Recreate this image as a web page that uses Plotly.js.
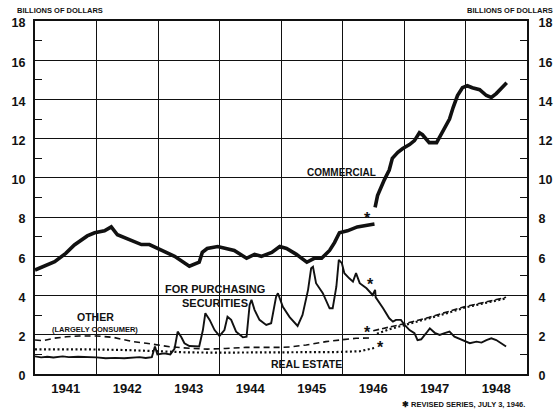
<!DOCTYPE html>
<html>
<head>
<meta charset="utf-8">
<script src="https://cdn.plot.ly/plotly-3.0.1.min.js"></script>
<style>html,body{margin:0;padding:0;background:#fff;}#chart{width:557px;height:410px;}</style>
</head>
<body>
<div id="chart"></div>
<script>
// ---- Data (decimal years, billions of dollars) ----
const yearLabels = ['1941','1942','1943','1944','1945','1946','1947','1948'];
const yearLabelPos = [1941.5,1942.5,1943.5,1944.5,1945.5,1946.5,1947.5,1948.5];
const yearBounds = [1942,1943,1944,1945,1946,1947,1948];

const commercialX = [1941.0,1941.1,1941.32,1941.5,1941.64,1941.85,1941.97,1942.13,1942.24,1942.34,1942.57,1942.73,1942.86,1943.06,1943.27,1943.51,1943.67,1943.72,1943.8,1943.97,1944.13,1944.24,1944.44,1944.57,1944.68,1944.85,1944.98,1945.09,1945.25,1945.42,1945.54,1945.66,1945.79,1945.87,1945.95,1946.08,1946.24,1946.36,1946.47,1946.52];
const commercialY = [5.3,5.45,5.73,6.15,6.58,7.04,7.2,7.3,7.5,7.1,6.8,6.6,6.6,6.3,6.0,5.5,5.7,6.2,6.4,6.5,6.4,6.3,5.9,6.1,6.0,6.2,6.5,6.4,6.1,5.7,5.9,5.9,6.3,6.7,7.2,7.3,7.5,7.55,7.6,7.65];

const commercialRevX = [1946.53,1946.57,1946.68,1946.76,1946.81,1946.9,1946.98,1947.09,1947.17,1947.25,1947.3,1947.41,1947.53,1947.63,1947.74,1947.8,1947.87,1947.95,1948.03,1948.11,1948.23,1948.34,1948.42,1948.5,1948.59,1948.67];
const commercialRevY = [8.5,9.1,9.9,10.4,11.0,11.3,11.5,11.7,11.9,12.3,12.2,11.8,11.8,12.4,13.0,13.6,14.2,14.6,14.7,14.6,14.5,14.2,14.1,14.3,14.6,14.85];

const securitiesX = [1941.0,1941.1,1941.2,1941.3,1941.45,1941.55,1941.7,1941.85,1942.0,1942.15,1942.3,1942.45,1942.6,1942.7,1942.8,1942.9,1942.95,1942.99,1943.1,1943.2,1943.27,1943.32,1943.38,1943.43,1943.51,1943.67,1943.73,1943.77,1943.84,1943.92,1944.0,1944.08,1944.13,1944.19,1944.27,1944.38,1944.44,1944.49,1944.52,1944.57,1944.65,1944.76,1944.84,1944.92,1944.95,1945.03,1945.14,1945.22,1945.27,1945.35,1945.44,1945.49,1945.52,1945.57,1945.68,1945.79,1945.84,1945.9,1945.94,1945.99,1946.03,1946.11,1946.17,1946.22,1946.28,1946.39,1946.49,1946.53,1946.54,1946.66,1946.76,1946.82,1946.87,1946.95,1947.01,1947.09,1947.17,1947.22,1947.28,1947.36,1947.42,1947.5,1947.58,1947.66,1947.74,1947.82,1947.88,1947.96,1948.07,1948.18,1948.26,1948.34,1948.42,1948.5,1948.58,1948.66];
const securitiesY = [0.9,0.85,0.88,0.84,0.9,0.86,0.88,0.87,0.85,0.8,0.82,0.8,0.82,0.86,0.82,0.86,1.4,1.0,1.05,1.0,1.3,2.16,1.87,1.57,1.43,1.4,2.24,3.1,2.76,2.24,1.94,2.24,2.92,2.76,2.16,1.87,1.9,3.52,3.78,3.27,2.76,2.5,2.59,3.94,4.12,3.43,2.9,2.59,2.45,3.01,4.29,5.39,5.47,4.63,4.12,3.35,3.35,4.45,5.82,5.65,5.14,4.88,4.71,5.14,4.63,4.37,4.03,4.29,3.91,3.35,2.84,2.67,2.76,2.76,2.5,2.24,2.08,1.73,1.77,2.08,2.33,2.1,1.99,2.08,2.16,1.9,1.82,1.73,1.57,1.65,1.6,1.73,1.82,1.73,1.57,1.4];

const otherX = [1941.0,1941.13,1941.3,1941.51,1941.72,1942.0,1942.27,1942.43,1942.59,1942.81,1942.97,1943.19,1943.51,1943.8,1944.1,1944.43,1944.98,1945.14,1945.41,1945.73,1946.0,1946.22,1946.45];
const otherY = [1.73,1.7,1.82,1.9,1.94,1.94,1.87,1.77,1.65,1.57,1.48,1.39,1.31,1.27,1.3,1.36,1.36,1.38,1.48,1.65,1.75,1.82,1.84];
const otherRevX = [1946.5,1946.76,1947.04,1947.41,1947.7,1947.98,1948.3,1948.66];
const otherRevY = [2.21,2.38,2.59,2.89,3.15,3.43,3.65,3.91];

const realEstateX = [1941.0,1941.5,1942.0,1942.5,1943.0,1943.5,1944.0,1944.5,1945.0,1945.5,1945.9,1946.28,1946.45,1946.55];
const realEstateY = [1.26,1.26,1.25,1.22,1.15,1.1,1.09,1.09,1.09,1.1,1.12,1.16,1.28,1.35];
const realEstateRevX = [1946.56,1946.76,1947.04,1947.41,1947.7,1947.98,1948.3,1948.66];
const realEstateRevY = [2.05,2.28,2.52,2.83,3.1,3.38,3.6,3.86];

const yTicks = [0,2,4,6,8,10,12,14,16,18];

// ---- Chart ----
const FONT = 'Liberation Sans, Arial, sans-serif';
const blk = '#111';
function line(x, y, width, dash, xaxis, yaxis) {
  return {x: x, y: y, type: 'scatter', mode: 'lines', xaxis: xaxis || 'x', yaxis: yaxis || 'y',
    line: {color: blk, width: width, dash: dash || 'solid'}, hoverinfo: 'skip', showlegend: false};
}
const traces = [
  line(otherX, otherY, 1.6, '6px,4px'),
  line(otherRevX, otherRevY, 1.6, '6px,3px', 'x2', 'y'),
  line(realEstateX, realEstateY, 2.2, '2px,2.5px', 'x', 'y2'),
  line(realEstateRevX, realEstateRevY, 2.2, '2px,2.5px', 'x', 'y2'),
  line(securitiesX, securitiesY, 1.9),
  line(commercialX, commercialY, 3.6),
  line(commercialRevX, commercialRevY, 3.6)
];

const yCommon = {
  type: 'linear',
  range: [0, 18], tickmode: 'array', tickvals: yTicks, ticks: '',
  tickfont: {family: FONT, size: 12.5, color: blk, weight: 'bold'},
  zeroline: false, fixedrange: true, ticklabelshift: 2,
  minor: {tickmode: 'linear', tick0: 1, dtick: 2, ticks: 'inside', ticklen: 7, tickwidth: 1, tickcolor: blk, showgrid: false}
};

const ann = (text, x, y, size, extra) => Object.assign({
  text: text, x: x, y: y, xref: 'x', yref: 'y', showarrow: false,
  font: {family: FONT, size: size, color: blk, weight: 'bold'}
}, extra || {});

const layout = {
  width: 557, height: 410,
  margin: {l: 35, r: 30, t: 21, b: 36, pad: 0},
  paper_bgcolor: '#fff', plot_bgcolor: '#fff',
  showlegend: false,
  // year boundaries: gridlines only
  xaxis: {
    type: 'linear',
    range: [1941, 1949], tickmode: 'array', tickvals: yearBounds, ticktext: yearBounds.map(() => ''),
    ticks: '', showgrid: true, gridcolor: blk, gridwidth: 1, zeroline: false, fixedrange: true,
    showline: true, mirror: true, linecolor: blk, linewidth: 2, showticklabels: false
  },
  // year labels centred within each year
  xaxis2: {
    type: 'linear',
    overlaying: 'x', matches: 'x', side: 'bottom', anchor: 'y',
    range: [1941, 1949], tickmode: 'array', tickvals: yearLabelPos, ticktext: yearLabels,
    ticks: '', showgrid: false, zeroline: false, fixedrange: true, showline: false,
    ticklabelstandoff: 5,
    tickfont: {family: FONT, size: 13, color: blk, weight: 'bold'}
  },
  yaxis: Object.assign({}, yCommon, {
    side: 'left', showgrid: true, gridcolor: blk, gridwidth: 1,
    showline: true, mirror: true, linecolor: blk, linewidth: 2, ticklabelstandoff: 5
  }),
  yaxis2: Object.assign({}, yCommon, {
    side: 'right', overlaying: 'y', matches: 'y', showgrid: false,
    showline: true, linecolor: blk, linewidth: 2, ticklabelstandoff: 7
  }),
  annotations: [
    ann('COMMERCIAL', 1945.99, 10.25, 10),
    ann('FOR PURCHASING', 1943.92, 4.33, 11),
    ann('SECURITIES', 1943.92, 3.62, 11),
    ann('OTHER', 1941.99, 2.91, 10.5),
    ann('(LARGELY CONSUMER)', 1941.98, 2.29, 7.5),
    ann('REAL ESTATE', 1945.41, 0.51, 10.5),
    ann('*', 1946.40, 7.95, 16),
    ann('*', 1946.46, 4.55, 16),
    ann('*', 1946.40, 2.1, 16),
    ann('*', 1946.62, 1.33, 16),
    {text: '✱ REVISED SERIES, JULY 3, 1946.', xref: 'paper', yref: 'paper', x: 1.0, y: -0.085,
     xanchor: 'right', yanchor: 'middle', showarrow: false,
     font: {family: FONT, size: 7.5, color: blk, weight: 'bold'}},
    {text: 'BILLIONS OF DOLLARS', xref: 'paper', yref: 'paper', x: -0.0407, y: 1.0297,
     xanchor: 'left', yanchor: 'middle', showarrow: false,
     font: {family: FONT, size: 7.5, color: blk, weight: 'bold'}},
    {text: 'BILLIONS OF DOLLARS', xref: 'paper', yref: 'paper', x: 1.057, y: 1.0297,
     xanchor: 'right', yanchor: 'middle', showarrow: false,
     font: {family: FONT, size: 7.5, color: blk, weight: 'bold'}}
  ]
};

Plotly.newPlot('chart', traces, layout, {displayModeBar: false});
</script>
</body>
</html>
